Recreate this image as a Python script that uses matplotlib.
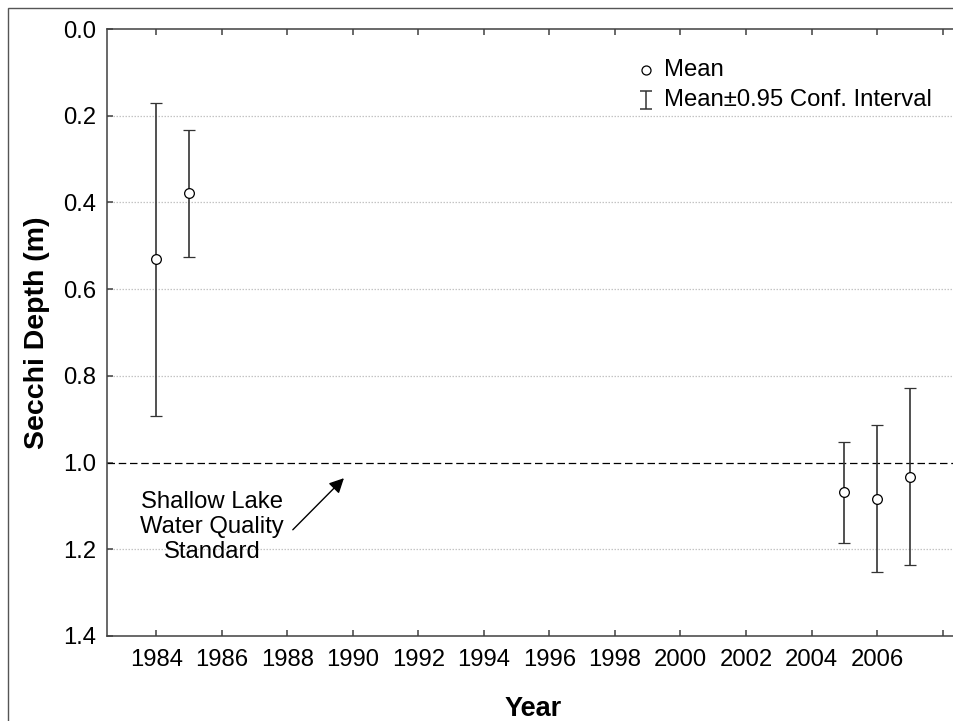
import matplotlib
matplotlib.use("Agg")
import matplotlib.pyplot as plt
from matplotlib.patches import Rectangle
import numpy as np

plt.rcParams['font.family'] = ['Liberation Sans', 'DejaVu Sans']

years = [1984, 1985, 2005, 2006, 2007]
means = [0.531, 0.378, 1.068, 1.084, 1.033]
ci_upper = [0.171, 0.232, 0.952, 0.914, 0.829]   # shallower end
ci_lower = [0.892, 0.526, 1.185, 1.252, 1.236]   # deeper end
standard = 1.0
xticks = list(range(1984, 2009, 2))
xticklabels = [str(y) if y <= 2006 else "" for y in xticks]
yticks = [0.0, 0.2, 0.4, 0.6, 0.8, 1.0, 1.2, 1.4]
ytick_labels = ["0.0", "0.2", "0.4", "0.6", "0.8", "1.0", "1.2", "1.4"]

W, H = 954, 721
fig = plt.figure(figsize=(W / 100, H / 100), dpi=100)
left, right, top, bottom = 107, 959, 29, 636
ax = fig.add_axes([left / W, 1 - bottom / H, (right - left) / W, (bottom - top) / H])

spine_col = '#404040'
ink = '#333333'

# gridlines
for yv in yticks:
    if yv in (0.0, standard, 1.4):
        continue
    ax.axhline(yv, color='#c4c4c4', lw=0.9, ls=(0, (1.2, 1.2)), zorder=1)
ax.axhline(standard, color='black', lw=0.9, ls=(0, (6, 3)), zorder=2)

m = np.array(means)
yerr = np.vstack([m - np.array(ci_upper), np.array(ci_lower) - m])
ax.errorbar(years, means, yerr=yerr, fmt='o', color=ink, ecolor=ink,
            elinewidth=1.2, capsize=4, capthick=1.2,
            markersize=7, markerfacecolor='white', markeredgecolor='black',
            markeredgewidth=0.9, zorder=3)

ax.set_xlim(1982.5, 2008.5)
ax.set_ylim(1.4, 0.0)
ax.set_xticks(xticks)
ax.set_xticklabels(xticklabels)
ax.set_yticks(yticks)
ax.set_yticklabels(ytick_labels)
ax.tick_params(axis='both', direction='in', length=4, width=1.1, color=spine_col,
               labelsize=17.2, top=True, right=False)
ax.tick_params(axis='y', pad=8)
ax.tick_params(axis='x', pad=9)
for s in ax.spines.values():
    s.set_color(spine_col)
    s.set_linewidth(1.1)
ax.spines['right'].set_visible(False)

ax.set_xlabel("Year", fontsize=19.5, fontweight='bold', labelpad=18)
ax.set_ylabel("Secchi Depth (m)", fontsize=20.5, fontweight='bold', labelpad=9)

# annotation
ax.text(1985.71, 1.149, "Shallow Lake\nWater Quality\nStandard", ha='center',
        va='center', fontsize=17.2, linespacing=1.17)
ax.annotate("", xy=(1989.73, 1.036), xytext=(1988.17, 1.155),
            arrowprops=dict(arrowstyle='-|>', color='black', lw=1.0,
                            mutation_scale=22, shrinkA=0, shrinkB=0))

# legend (drawn manually)
def px2ax(x, y):
    return ((x - left) / (right - left), 1 - (y - top) / (bottom - top))

mx, my = px2ax(646, 69.5)
ax.plot([mx], [my], 'o', transform=ax.transAxes, markersize=6.5,
        markerfacecolor='white', markeredgecolor='black', markeredgewidth=0.9,
        clip_on=False)
tx, ty = px2ax(664, 69.5)
ax.text(tx, ty, "Mean", transform=ax.transAxes, fontsize=17.2, va='center', ha='left')
ex, ey1 = px2ax(646, 90.7)
_, ey2 = px2ax(646, 109)
ax.errorbar([ex], [(ey1 + ey2) / 2], yerr=[[(ey1 - ey2) / 2]], fmt='none',
            ecolor=ink, elinewidth=1.1, capsize=4, capthick=1.1,
            transform=ax.transAxes, clip_on=False)
tx2, ty2 = px2ax(664, 99.5)
ax.text(tx2, ty2, "Mean\u00b10.95 Conf. Interval", transform=ax.transAxes,
        fontsize=17.2, va='center', ha='left')

# figure frame
fig.patches.append(Rectangle((8 / W, -0.1), 1.2, 1.1 - 8 / H,
                             transform=fig.transFigure, fill=False,
                             edgecolor='#555555', lw=1.0))

fig.savefig("out.png", dpi=100)
